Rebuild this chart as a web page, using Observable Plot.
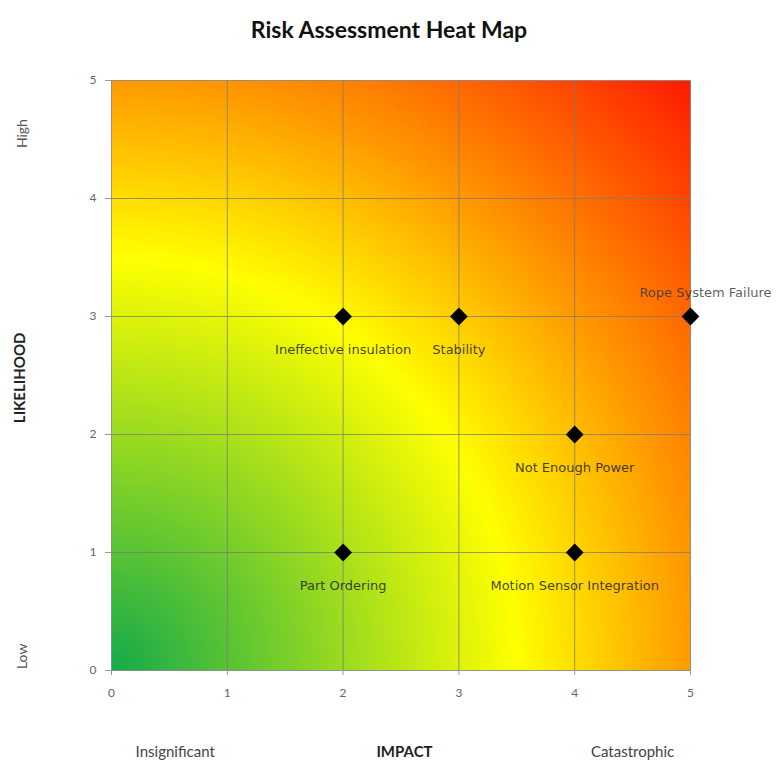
<!DOCTYPE html>
<html>
<head>
<meta charset="utf-8">
<script src="https://cdn.jsdelivr.net/npm/d3@7"></script>
<script src="https://cdn.jsdelivr.net/npm/@observablehq/plot@0.6"></script>
<style>
  html, body { margin: 0; padding: 0; background: #fff; }
  #title { height: 50px; line-height: 58px; text-align: center; font-family: Lato, "Open Sans", sans-serif; font-weight: bold; font-size: 23px; color: #111; width: 778px; }
</style>
</head>
<body>
<div id="title">Risk Assessment Heat Map</div>
<div id="chart"></div>
<script>
// Risks: impact (x) and likelihood (y)
const risks = ["Ineffective insulation", "Stability", "Rope System Failure", "Not Enough Power", "Part Ordering", "Motion Sensor Integration"];
const impact = [2, 3, 5, 4, 2, 4];
const likelihood = [3, 3, 3, 2, 1, 1];
const ticks = [0, 1, 2, 3, 4, 5];
const impactScaleLabels = ["Insignificant", "Catastrophic"];
const likelihoodScaleLabels = ["High", "Low"];
// background gradient stops: distance from origin -> colour
const gradStops = [0, 3.5, 5, 7.07];
const gradColors = ["#14aa4a", "#ffff00", "#ff9a00", "#ff1a00"];

const data = risks.map((name, i) => ({name, impact: impact[i], likelihood: likelihood[i]}));
const below = data.filter(d => d.name !== "Rope System Failure");
const above = data.filter(d => d.name === "Rope System Failure");

const font = "'DejaVu Sans', Verdana, sans-serif";

const chart = Plot.plot({
  width: 778,
  height: 714,
  marginLeft: 111,
  marginRight: 88,
  marginTop: 30,
  marginBottom: 94,
  style: {fontFamily: "Lato, 'Open Sans', sans-serif", fontSize: "12px", color: "#666", overflow: "visible"},
  x: {domain: [0, 5], ticks, tickFormat: "d", label: null},
  y: {domain: [0, 5], ticks, tickFormat: "d", label: null},
  color: {type: "linear", domain: gradStops, range: gradColors, interpolate: "rgb"},
  marks: [
    Plot.raster({fill: (x, y) => Math.hypot(x, y), x1: 0, x2: 5, y1: 0, y2: 5, pixelSize: 2}),
    Plot.gridX(ticks, {stroke: "#7a7a7a", strokeOpacity: 0.75, strokeWidth: 1}),
    Plot.gridY(ticks, {stroke: "#7a7a7a", strokeOpacity: 0.75, strokeWidth: 1}),
    Plot.axisX({ticks, tickFormat: "d", tickSize: 5, tickPadding: 13, stroke: "#999", fontSize: 12, label: null}),
    Plot.axisY({ticks, tickFormat: "d", tickSize: 6, tickPadding: 9, stroke: "#999", fontSize: 12, label: null}),
    Plot.dot(data, {x: "impact", y: "likelihood", symbol: "diamond2", r: 8, fill: "#000", stroke: "none"}),
    Plot.text(below, {x: "impact", y: "likelihood", text: "name", dy: 33, fontFamily: font, fontSize: 13, letterSpacing: 0.5, fill: "#222", fillOpacity: 0.85}),
    Plot.text(above, {x: "impact", y: "likelihood", text: "name", dy: -24, dx: 15, fontFamily: font, fontSize: 13, letterSpacing: 0.5, fill: "#333", fillOpacity: 0.8}),
    Plot.text([impactScaleLabels[0]], {x: 0.55, frameAnchor: "bottom", dy: 86, text: d => d, fontSize: 15, fill: "#444"}),
    Plot.text([impactScaleLabels[1]], {x: 4.5, frameAnchor: "bottom", dy: 86, text: d => d, fontSize: 15, fill: "#444"}),
    Plot.text([likelihoodScaleLabels[0]], {y: 4.55, frameAnchor: "left", textAnchor: "middle", dx: -89, rotate: -90, text: d => d, fontSize: 14, fill: "#555"}),
    Plot.text([likelihoodScaleLabels[1]], {y: 0.12, frameAnchor: "left", textAnchor: "middle", dx: -89, rotate: -90, text: d => d, fontSize: 14, fill: "#555"}),
    Plot.text(["IMPACT"], {x: 2.53, frameAnchor: "bottom", dy: 86, text: d => d, fontSize: 15, fontWeight: "bold", fill: "#222"}),
    Plot.text(["LIKELIHOOD"], {y: 2.48, frameAnchor: "left", textAnchor: "middle", dx: -91, rotate: -90, text: d => d, fontSize: 15, fontWeight: "bold", fill: "#222"})
  ]
});
document.getElementById("chart").appendChild(chart);
</script>
</body>
</html>
